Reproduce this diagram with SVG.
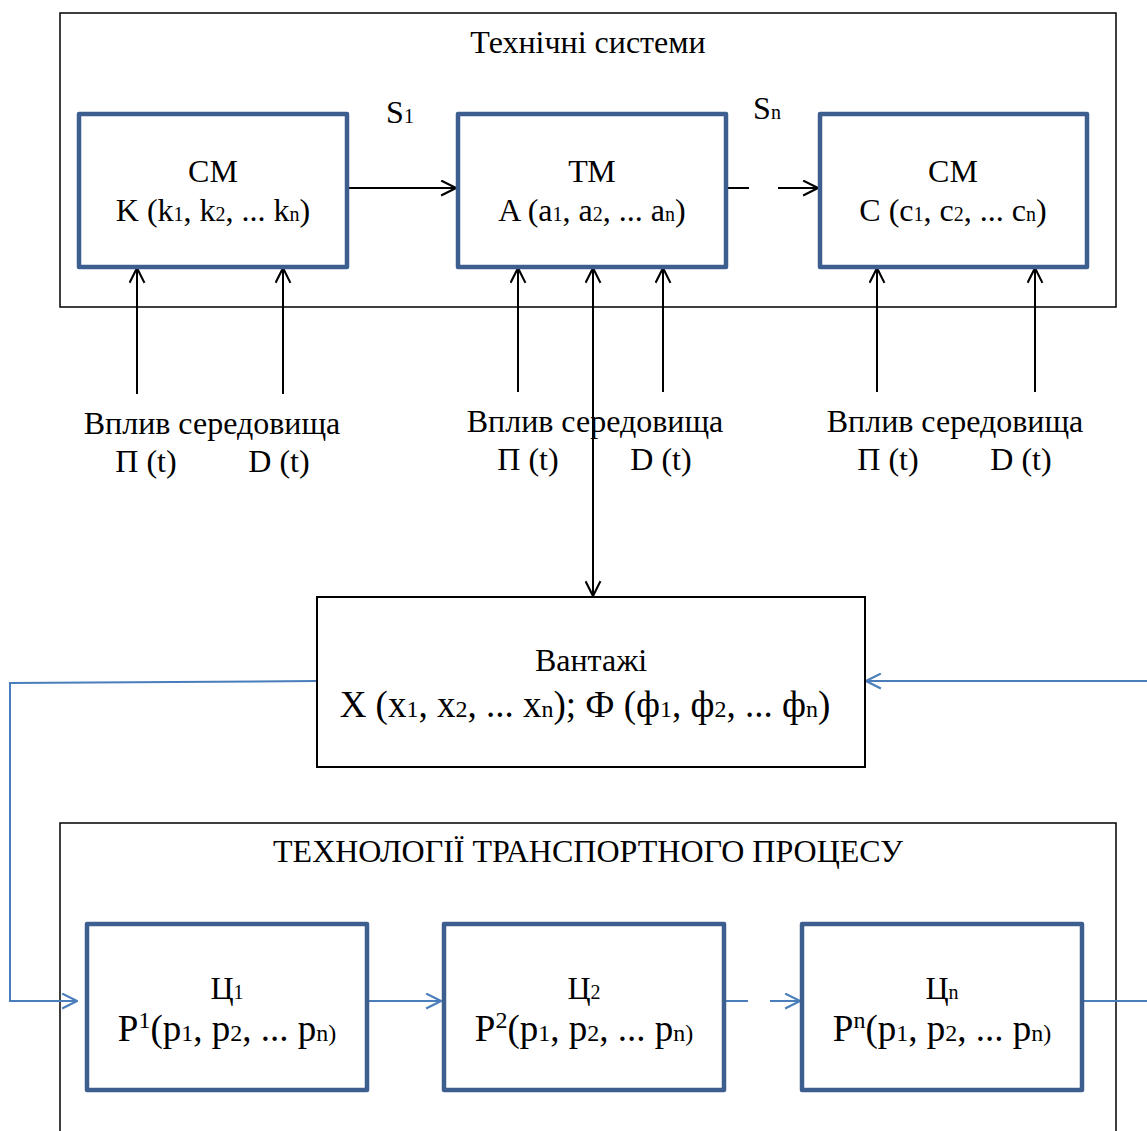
<svg xmlns="http://www.w3.org/2000/svg" width="1147" height="1131" viewBox="0 0 1147 1131">
<style>
text{font-family:"Liberation Serif","Times New Roman",serif;fill:#000;text-anchor:middle}
.t{font-size:32px}
.s{font-size:20px}
.big{font-size:37px}
.bs{font-size:24px}
.frame{fill:none;stroke:#000;stroke-width:1.5}
.bx{fill:#fff;stroke:#3c5f8f;stroke-width:4.5;stroke-linejoin:round}
.bk{fill:#fff;stroke:#000;stroke-width:2}
.cb{fill:none;stroke:#000;stroke-width:2}
.cl{fill:none;stroke:#4a7ebb;stroke-width:2}
</style>
<defs>
<marker id="ab" viewBox="0 0 16 16" refX="15" refY="8" markerWidth="17" markerHeight="17" markerUnits="userSpaceOnUse" orient="auto-start-reverse">
<path d="M1,1 L15,8 L1,15" fill="none" stroke="#000" stroke-width="2"/>
</marker>
<marker id="al" viewBox="0 0 16 16" refX="15" refY="8" markerWidth="17" markerHeight="17" markerUnits="userSpaceOnUse" orient="auto">
<path d="M1,1 L15,8 L1,15" fill="none" stroke="#4a7ebb" stroke-width="2"/>
</marker>
</defs>
<rect width="1147" height="1131" fill="#fff"/>
<g id="frame-top">
<rect class="frame" x="60" y="13" width="1056" height="294"/>
<text class="t" x="588" y="53">Технічні системи</text>
</g>
<g id="frame-bottom">
<rect class="frame" x="60" y="823" width="1056" height="330"/>
<text class="t" x="588" y="862">ТЕХНОЛОГІЇ ТРАНСПОРТНОГО ПРОЦЕСУ</text>
</g>
<g id="connectors">
<line class="cb" x1="347" y1="188" x2="456" y2="188" marker-end="url(#ab)"/>
<line class="cb" x1="727" y1="188" x2="749" y2="188"/>
<line class="cb" x1="778" y1="188" x2="818" y2="188" marker-end="url(#ab)"/>
<line class="cb" x1="137" y1="394" x2="137" y2="268" marker-end="url(#ab)"/>
<line class="cb" x1="283" y1="394" x2="283" y2="268" marker-end="url(#ab)"/>
<line class="cb" x1="518" y1="392" x2="518" y2="268" marker-end="url(#ab)"/>
<line class="cb" x1="663" y1="392" x2="663" y2="268" marker-end="url(#ab)"/>
<line class="cb" x1="877" y1="392" x2="877" y2="268" marker-end="url(#ab)"/>
<line class="cb" x1="1035" y1="392" x2="1035" y2="268" marker-end="url(#ab)"/>
<line class="cb" x1="593" y1="268" x2="593" y2="596" marker-start="url(#ab)" marker-end="url(#ab)"/>
<polyline class="cl" points="317,681 10,683 10,1001 77,1001" marker-end="url(#al)"/>
<line class="cl" x1="1147" y1="681" x2="866" y2="681" marker-end="url(#al)"/>
<line class="cl" x1="367" y1="1001" x2="441" y2="1001" marker-end="url(#al)"/>
<line class="cl" x1="724" y1="1001" x2="748" y2="1001"/>
<line class="cl" x1="770" y1="1001" x2="800" y2="1001" marker-end="url(#al)"/>
<line class="cl" x1="1082" y1="1001" x2="1147" y2="1001"/>
</g>
<g id="label-s1"><text class="t" x="400" y="123">S<tspan class="s">1</tspan></text></g>
<g id="label-sn"><text class="t" x="767" y="119">S<tspan class="s">n</tspan></text></g>
<g id="node-cm1">
<rect class="bx" x="79" y="114" width="268" height="153"/>
<text class="t" x="213" y="182">СМ</text>
<text class="t" x="213" y="221">K (k<tspan class="s">1</tspan>, k<tspan class="s">2</tspan>, ... k<tspan class="s">n</tspan>)</text>
</g>
<g id="node-tm">
<rect class="bx" x="458" y="114" width="268" height="153"/>
<text class="t" x="592" y="182">ТМ</text>
<text class="t" x="592" y="221">A (a<tspan class="s">1</tspan>, a<tspan class="s">2</tspan>, ... a<tspan class="s">n</tspan>)</text>
</g>
<g id="node-cm3">
<rect class="bx" x="820" y="114" width="267" height="153"/>
<text class="t" x="953" y="182">СМ</text>
<text class="t" x="953" y="221">C (c<tspan class="s">1</tspan>, c<tspan class="s">2</tspan>, ... c<tspan class="s">n</tspan>)</text>
</g>
<g id="env-1">
<text class="t" x="212" y="434">Вплив середовища</text>
<text class="t" x="146" y="472">П (t)</text>
<text class="t" x="279" y="472">D (t)</text>
</g>
<g id="env-2">
<text class="t" x="595" y="432">Вплив середовища</text>
<text class="t" x="528" y="470">П (t)</text>
<text class="t" x="661" y="470">D (t)</text>
</g>
<g id="env-3">
<text class="t" x="955" y="432">Вплив середовища</text>
<text class="t" x="888" y="470">П (t)</text>
<text class="t" x="1021" y="470">D (t)</text>
</g>
<g id="node-cargo">
<rect class="bk" x="317" y="597" width="548" height="170"/>
<text class="t" x="591" y="671">Вантажі</text>
<text class="big" x="585" y="717">X (x<tspan class="bs">1</tspan>, x<tspan class="bs">2</tspan>, ... x<tspan class="bs">n</tspan>); Ф (ф<tspan class="bs">1</tspan>, ф<tspan class="bs">2</tspan>, ... ф<tspan class="bs">n</tspan>)</text>
</g>
<g id="node-c1">
<rect class="bx" x="87" y="924" width="280" height="166"/>
<text class="t" x="227" y="999">Ц<tspan class="s">1</tspan></text>
<text class="big" x="227" y="1041">P<tspan class="bs" dy="-13">1</tspan><tspan dy="13">(p</tspan><tspan class="bs">1</tspan>, p<tspan class="bs">2</tspan>, ... p<tspan class="bs">n)</tspan></text>
</g>
<g id="node-c2">
<rect class="bx" x="444" y="924" width="280" height="166"/>
<text class="t" x="584" y="999">Ц<tspan class="s">2</tspan></text>
<text class="big" x="584" y="1041">P<tspan class="bs" dy="-13">2</tspan><tspan dy="13">(p</tspan><tspan class="bs">1</tspan>, p<tspan class="bs">2</tspan>, ... p<tspan class="bs">n)</tspan></text>
</g>
<g id="node-cn">
<rect class="bx" x="802" y="924" width="280" height="166"/>
<text class="t" x="942" y="999">Ц<tspan class="s">n</tspan></text>
<text class="big" x="942" y="1041">P<tspan class="bs" dy="-13">n</tspan><tspan dy="13">(p</tspan><tspan class="bs">1</tspan>, p<tspan class="bs">2</tspan>, ... p<tspan class="bs">n)</tspan></text>
</g>
</svg>
